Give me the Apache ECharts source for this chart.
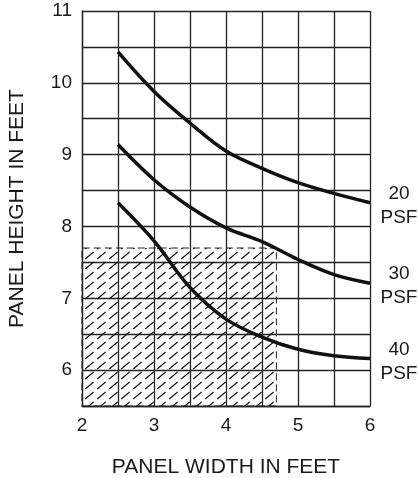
<!DOCTYPE html>
<html>
<head>
<meta charset="utf-8">
<script src="https://cdn.jsdelivr.net/npm/echarts@6/dist/echarts.min.js"></script>
<style>
  html, body { margin: 0; padding: 0; background: #fff; }
  #chart { width: 418px; height: 478px; }
</style>
</head>
<body>
<div id="chart"></div>
<script>
// panel width (ft) where each curve is read
const widths = [2.5, 3, 3.5, 4, 4.5, 5, 5.5, 6]
// max panel height (ft) per wind load
const psf20 = [10.43, 9.88, 9.44, 9.05, 8.81, 8.61, 8.46, 8.33]
const psf30 = [9.14, 8.65, 8.27, 7.98, 7.79, 7.54, 7.33, 7.21]
const psf40 = [8.33, 7.80, 7.15, 6.71, 6.46, 6.29, 6.20, 6.16]
const seriesNames = ['20 PSF', '30 PSF', '40 PSF']
// hatched zone corner (width, height)
const zoneCorner = [4.7, 7.7]

// hatch tile: dashed diagonal lines
function hatchTile () {
  const w = 12, h = 10
  const c = document.createElement('canvas')
  c.width = w
  c.height = h
  const ctx = c.getContext('2d')
  ctx.strokeStyle = '#111'
  ctx.lineWidth = 1.1
  ctx.beginPath()
  ctx.moveTo(w * 0.1, h * 0.9)
  ctx.lineTo(w * 0.8, h * 0.2)
  ctx.stroke()
  return c
}

const font = 'Liberation Sans, Arial, sans-serif'
const data = [psf20, psf30, psf40]

const myChart = echarts.init(document.getElementById('chart'))
const options = {
  animation: false,
  grid: { left: 82, right: 48, top: 11, bottom: 72, outerBoundsMode: 'none' },
  xAxis: {
    type: 'value',
    min: 2,
    max: 6,
    interval: 0.5,
    name: 'PANEL WIDTH IN FEET',
    nameLocation: 'middle',
    nameGap: 51,
    nameTextStyle: { fontFamily: font, fontSize: 21, color: '#1a1a1a' },
    axisLine: { show: true, lineStyle: { color: '#222', width: 1.3 } },
    axisTick: { show: false },
    axisLabel: {
      fontFamily: font, fontSize: 19, color: '#1a1a1a', margin: 10,
      formatter: v => (Number.isInteger(v) ? String(v) : '')
    },
    splitLine: { show: true, lineStyle: { color: '#222', width: 1.3 } }
  },
  yAxis: {
    type: 'value',
    min: 5.5,
    max: 11,
    interval: 0.5,
    name: 'PANEL HEIGHT IN FEET',
    nameLocation: 'middle',
    nameGap: 54,
    nameTextStyle: { fontFamily: font, fontSize: 21, color: '#1a1a1a' },
    axisLine: { show: true, lineStyle: { color: '#222', width: 1.3 } },
    axisTick: { show: false },
    axisLabel: {
      fontFamily: font, fontSize: 19, color: '#1a1a1a', margin: 10,
      formatter: v => (Number.isInteger(v) ? String(v) : '')
    },
    splitLine: { show: true, lineStyle: { color: '#222', width: 1.3 } }
  },
  series: data.map((vals, i) => {
    const s = {
      name: seriesNames[i],
      type: 'line',
      smooth: 0.35,
      symbol: 'none',
      data: widths.map((w, j) => [w, vals[j]]),
      lineStyle: { color: '#111', width: 3.5 },
      endLabel: {
        show: true,
        formatter: p => p.seriesName.replace(' ', '\n'),
        align: 'center',
        distance: 29,
        offset: [0, 3],
        fontFamily: font,
        fontSize: 19,
        lineHeight: 24,
        color: '#1a1a1a'
      },
      z: 3
    }
    if (i === 0) {
      s.markArea = {
        silent: true,
        itemStyle: {
          color: { image: hatchTile(), repeat: 'repeat' },
          borderColor: '#222',
          borderWidth: 1,
          borderType: [7, 4]
        },
        data: [[{ coord: [2, 5.5] }, { coord: zoneCorner }]]
      }
    }
    return s
  })
}
myChart.setOption(options)
</script>
</body>
</html>
